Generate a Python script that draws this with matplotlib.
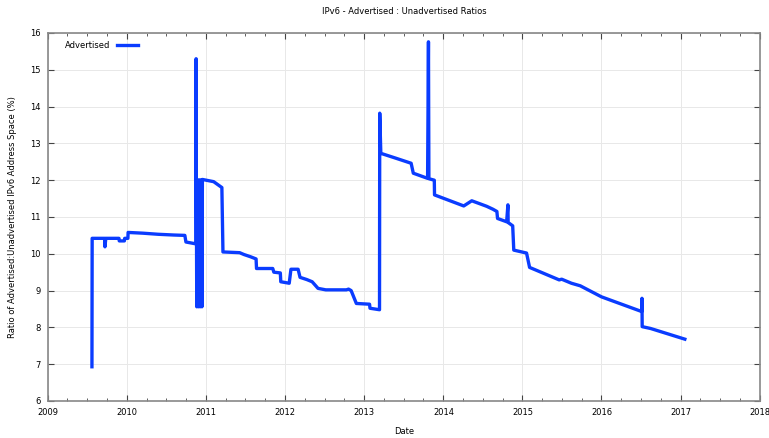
import pandas as pd
import matplotlib
matplotlib.use('Agg')
import matplotlib.pyplot as plt
import matplotlib.dates as mdates

# Leitura aproximada da imagem (data, razao %)
datas = [
    '2009-07-23', '2009-07-24', '2009-09-20', '2009-09-21', '2009-09-25',
    '2009-11-25', '2009-11-26', '2009-12-20', '2009-12-21', '2010-01-05',
    '2010-01-06', '2010-03-15', '2010-05-25', '2010-08-05', '2010-09-25',
    '2010-09-30', '2010-11-15', '2010-11-16', '2010-11-17', '2010-11-19',
    '2010-11-21', '2010-11-23', '2010-11-25', '2010-11-27', '2010-11-29',
    '2010-12-01', '2010-12-03', '2010-12-05', '2010-12-07', '2010-12-09',
    '2010-12-11', '2010-12-13', '2010-12-15', '2011-02-05', '2011-03-15',
    '2011-03-20', '2011-06-05', '2011-06-25', '2011-07-25', '2011-08-20',
    '2011-08-22', '2011-11-05', '2011-11-10', '2011-12-10', '2011-12-12',
    '2012-01-20', '2012-01-28', '2012-03-01', '2012-03-10', '2012-04-10',
    '2012-05-05', '2012-06-01', '2012-07-07', '2012-10-10', '2012-10-20',
    '2012-11-01', '2012-11-25', '2013-01-25', '2013-01-27', '2013-03-12',
    '2013-03-13', '2013-03-18', '2013-05-25', '2013-08-05', '2013-08-15',
    '2013-10-20', '2013-10-24', '2013-10-26', '2013-11-20', '2013-11-21',
    '2014-04-05', '2014-05-12', '2014-06-18', '2014-07-20', '2014-08-18',
    '2014-09-05', '2014-09-08', '2014-10-20', '2014-10-26', '2014-10-27',
    '2014-11-17', '2014-11-22', '2015-01-20', '2015-02-03', '2015-06-20',
    '2015-07-01', '2015-08-15', '2015-09-25', '2016-01-01', '2016-07-05',
    '2016-07-06', '2016-07-07', '2016-08-15', '2017-01-20',
]
advertised = [
    6.93, 10.42, 10.42, 10.19, 10.42,
    10.42, 10.35, 10.35, 10.42, 10.42,
    10.58, 10.56, 10.53, 10.51, 10.50,
    10.32, 10.27, 15.30, 12.00, 8.56,
    12.00, 8.60, 12.00, 8.56, 12.00,
    8.58, 12.00, 8.56, 12.00, 8.60,
    12.00, 8.56, 12.02, 11.96, 11.80,
    10.05, 10.03, 9.98, 9.92, 9.86,
    9.60, 9.60, 9.50, 9.48, 9.24,
    9.20, 9.58, 9.58, 9.36, 9.30,
    9.24, 9.06, 9.02, 9.02, 9.04,
    9.00, 8.65, 8.63, 8.52, 8.48,
    13.82, 12.73, 12.60, 12.46, 12.19,
    12.05, 15.76, 12.04, 12.00, 11.60,
    11.30, 11.44, 11.36, 11.29, 11.21,
    11.15, 10.96, 10.87, 11.33, 10.85,
    10.76, 10.10, 10.02, 9.63, 9.29,
    9.31, 9.20, 9.13, 8.83, 8.43,
    8.79, 8.02, 7.97, 7.68,
]

df = pd.DataFrame({'DATA': pd.to_datetime(datas), 'ADV': advertised})

fig = plt.figure(figsize=(7.69, 4.38), dpi=100)
ax = fig.add_axes([0.0624, 0.0845, 0.9256, 0.8402])

ax.plot(df['DATA'], df['ADV'], color='#0a3cff', linewidth=2.4, label='Advertised')

ax.set_xlim(pd.Timestamp('2009-01-01'), pd.Timestamp('2018-01-01'))
ax.set_ylim(6, 16)
ax.set_yticks(range(6, 17))
ax.xaxis.set_major_locator(mdates.YearLocator())
ax.xaxis.set_minor_locator(mdates.MonthLocator(bymonth=[4, 7, 10]))
ax.xaxis.set_major_formatter(mdates.DateFormatter('%Y'))

ax.tick_params(which='both', direction='in', top=True, right=True, labelsize=6, colors='#444444', labelcolor='black')
ax.tick_params(which='major', length=4, width=0.8, pad=5)
ax.tick_params(which='minor', length=2, width=0.6)
for s in ax.spines.values():
    s.set_color('#888888')
    s.set_linewidth(1.2)

ax.grid(True, which='major', color='#e8e8e8', linewidth=0.7)

ax.set_title('IPv6 - Advertised : Unadvertised Ratios', fontsize=6, pad=14)
ax.set_xlabel('Date', fontsize=6, labelpad=7)
ax.set_ylabel('Ratio of Advertised:Unadvertised IPv6 Address Space (%)', fontsize=6, labelpad=10)

ax.legend(loc='upper left', frameon=False, fontsize=6, markerfirst=False,
          handlelength=2.5, borderaxespad=0.6, bbox_to_anchor=(0.012, 1.0))

fig.savefig('out.png', dpi=100)
